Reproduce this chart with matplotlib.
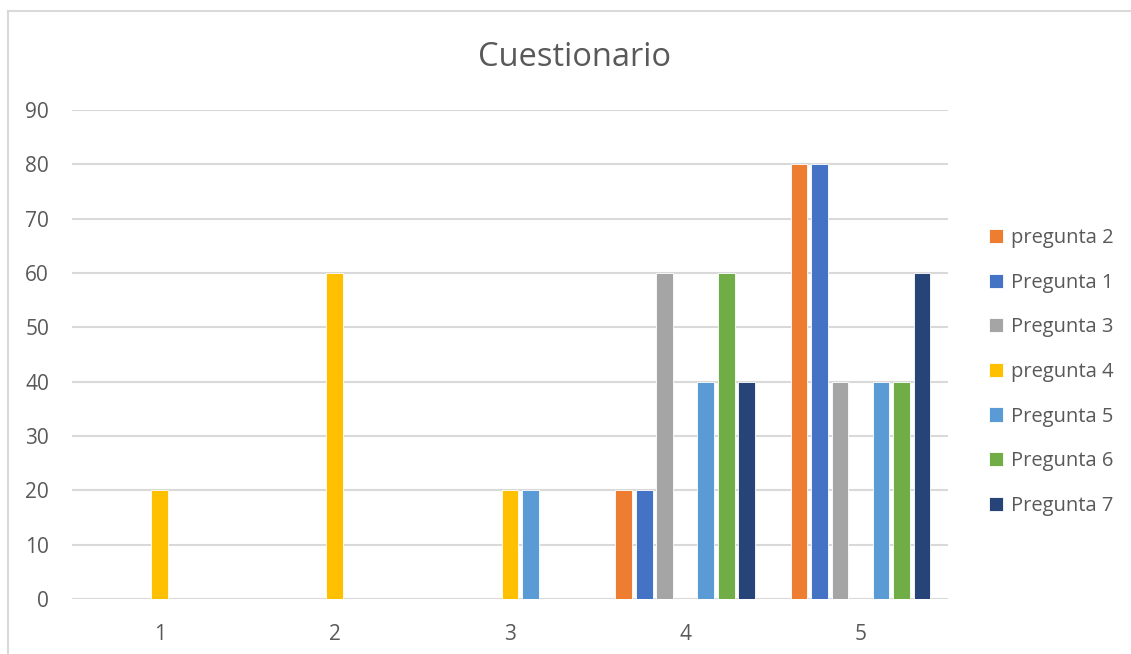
# Cuestionario - clustered bar chart
import numpy as np
import matplotlib.pyplot as plt
from matplotlib.lines import Line2D

plt.rcParams['font.family'] = ['Open Sans', 'DejaVu Sans']

# Categories on the x axis.
categories = ["1", "2", "3", "4", "5"]

# Series, in legend order.
series_names = ["pregunta 2", "Pregunta 1", "Pregunta 3", "pregunta 4",
                "Pregunta 5", "Pregunta 6", "Pregunta 7"]
pregunta_2 = [0, 0, 0, 20, 80]
pregunta_1 = [0, 0, 0, 20, 80]
pregunta_3 = [0, 0, 0, 60, 40]
pregunta_4 = [20, 60, 20, 0, 0]
pregunta_5 = [0, 0, 20, 40, 40]
pregunta_6 = [0, 0, 0, 60, 40]
pregunta_7 = [0, 0, 0, 40, 60]
colors = ["#ED7D31", "#4472C4", "#A5A5A5", "#FFC000",
          "#5B9BD5", "#70AD47", "#264478"]

series_values = [pregunta_2, pregunta_1, pregunta_3, pregunta_4,
                 pregunta_5, pregunta_6, pregunta_7]

text_color = "#595959"
grid_color = "#D9D9D9"

fig = plt.figure(figsize=(11.31, 6.54), dpi=100)
W, H = 1131, 654
# Plot area in pixels: x 72..948, y 110..599
ax = fig.add_axes([72 / W, 1 - 599 / H, (948 - 72) / W, (599 - 110) / H])

x = np.arange(1, len(categories) + 1)
step = 0.117
width = 0.095
for i in range(len(series_names)):
    ax.bar(x + (i - 3) * step, series_values[i], width=width, color=colors[i],
           edgecolor="white", linewidth=0.6, label=series_names[i], zorder=3)

ax.set_xlim(0.5, 5.5)
ax.set_ylim(0, 90)
ax.set_yticks(range(0, 91, 10))
ax.set_xticks(x)
ax.set_xticklabels(categories)
ax.yaxis.grid(True, color=grid_color, linewidth=1.5, zorder=0)
ax.set_axisbelow(True)
for s in ax.spines.values():
    s.set_visible(False)
ax.tick_params(axis='both', length=0, labelsize=15, labelcolor=text_color)
ax.tick_params(axis='y', pad=16.5)
ax.tick_params(axis='x', pad=18)

# Title
fig.text(575 / W, 1 - 57 / H, "Cuestionario", ha="center", va="center",
         fontsize=23.5, color=text_color)

# Legend on the right.
leg = ax.legend(loc="center left", bbox_to_anchor=(971 / W, 1 - 372 / H),
                bbox_transform=fig.transFigure, frameon=False, fontsize=14.5,
                handlelength=0.7, handleheight=0.7, handletextpad=0.4,
                labelspacing=1.22, labelcolor=text_color)

# Chart frame (left and top edges visible).
fig.add_artist(Line2D([8 / W, 8 / W], [0, 1 - 11 / H], color=grid_color,
                      linewidth=1.5, transform=fig.transFigure))
fig.add_artist(Line2D([8 / W, 1], [1 - 11 / H, 1 - 11 / H], color=grid_color,
                      linewidth=1.5, transform=fig.transFigure))

plt.savefig("out.png", dpi=100)
